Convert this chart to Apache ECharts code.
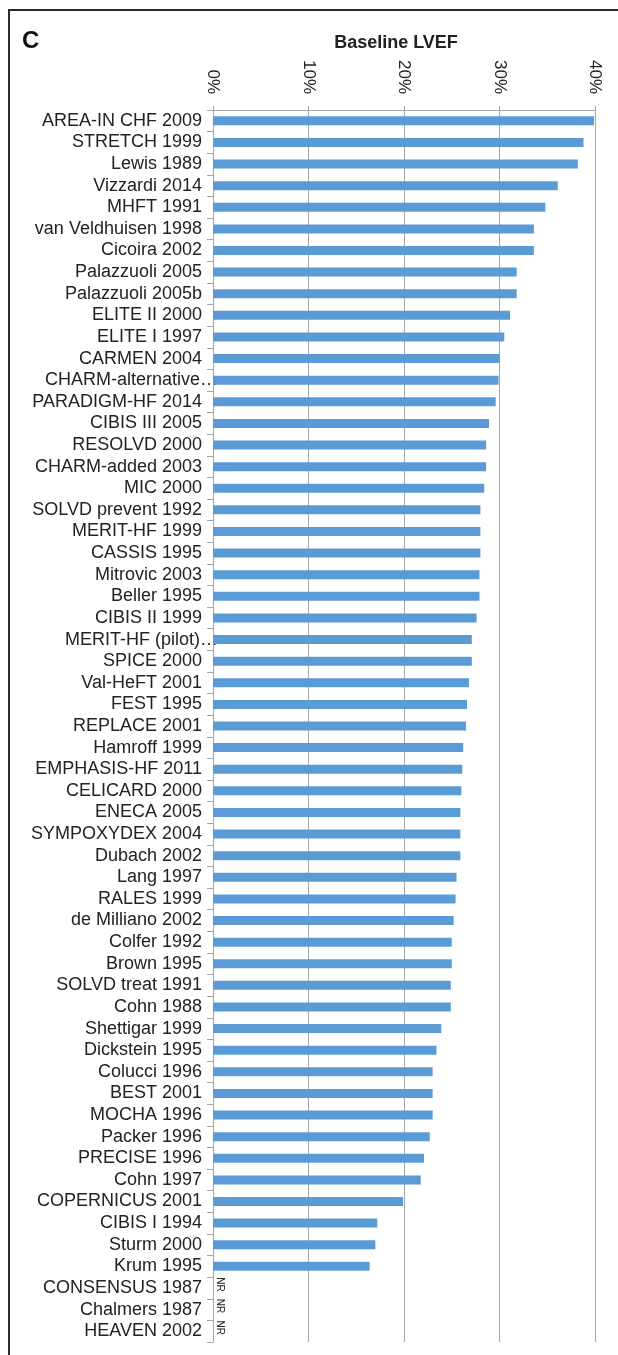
<!DOCTYPE html>
<html>
<head>
<meta charset="utf-8">
<style>
  html, body { margin: 0; padding: 0; background: #fff; }
  #main { width: 618px; height: 1355px; }
</style>
<script src="https://cdn.jsdelivr.net/npm/echarts@6/dist/echarts.min.js"></script>
</head>
<body>
<div id="main"></div>
<script>
// trials, top to bottom
const trials = [
  'AREA-IN CHF 2009', 'STRETCH 1999', 'Lewis 1989', 'Vizzardi 2014', 'MHFT 1991',
  'van Veldhuisen 1998', 'Cicoira 2002', 'Palazzuoli 2005', 'Palazzuoli 2005b', 'ELITE II 2000',
  'ELITE I 1997', 'CARMEN 2004', 'CHARM-alternative…', 'PARADIGM-HF 2014', 'CIBIS III 2005',
  'RESOLVD 2000', 'CHARM-added 2003', 'MIC 2000', 'SOLVD prevent 1992', 'MERIT-HF 1999',
  'CASSIS 1995', 'Mitrovic 2003', 'Beller 1995', 'CIBIS II 1999', 'MERIT-HF (pilot)…',
  'SPICE 2000', 'Val-HeFT 2001', 'FEST 1995', 'REPLACE 2001', 'Hamroff 1999',
  'EMPHASIS-HF 2011', 'CELICARD 2000', 'ENECA 2005', 'SYMPOXYDEX 2004', 'Dubach 2002',
  'Lang 1997', 'RALES 1999', 'de Milliano 2002', 'Colfer 1992', 'Brown 1995',
  'SOLVD treat 1991', 'Cohn 1988', 'Shettigar 1999', 'Dickstein 1995', 'Colucci 1996',
  'BEST 2001', 'MOCHA 1996', 'Packer 1996', 'PRECISE 1996', 'Cohn 1997',
  'COPERNICUS 2001', 'CIBIS I 1994', 'Sturm 2000', 'Krum 1995', 'CONSENSUS 1987',
  'Chalmers 1987', 'HEAVEN 2002'
]
// baseline LVEF in %, null = not reported
const lvef = [
  39.9, 38.8, 38.2, 36.1, 34.8,
  33.6, 33.6, 31.8, 31.8, 31.1,
  30.5, 30.0, 29.9, 29.6, 28.9,
  28.6, 28.6, 28.4, 28.0, 28.0,
  28.0, 27.9, 27.9, 27.6, 27.1,
  27.1, 26.8, 26.6, 26.5, 26.2,
  26.1, 26.0, 25.9, 25.9, 25.9,
  25.5, 25.4, 25.2, 25.0, 25.0,
  24.9, 24.9, 23.9, 23.4, 23.0,
  23.0, 23.0, 22.7, 22.1, 21.75,
  19.9, 17.2, 17.0, 16.4, null,
  null, null
]
const tickLabels = ['0%', '10%', '20%', '30%', '40%']

const font = 'Liberation Sans, Arial, sans-serif'
const chart = echarts.init(document.getElementById('main'))

// truncated names: excel lets the ellipsis run past the label edge
const catData = trials.map(name => {
  if (!name.endsWith('…')) return name
  return { value: name, textStyle: { padding: [0, -16, 0, 0] } }
})

const barData = lvef.map(v => {
  if (v !== null) return v
  return {
    value: 0,
    label: {
      show: true,
      formatter: 'NR',
      position: [7, 1],
      align: 'center',
      verticalAlign: 'middle',
      rotate: -90,
      fontSize: 10,
      fontFamily: font,
      color: '#222'
    }
  }
})

chart.setOption({
  animation: false,
  grid: { left: 213, right: 23, top: 110, bottom: 13 },
  graphic: [
    {
      type: 'rect',
      shape: { x: 9, y: 10, width: 900, height: 2000 },
      style: { fill: 'none', stroke: '#2b2b2b', lineWidth: 2 }
    },
    {
      type: 'text',
      left: 22, top: 29,
      style: { text: 'C', font: 'bold 24px ' + font, fill: '#111' }
    }
  ],
  xAxis: {
    type: 'value',
    position: 'top',
    min: 0, max: 40, interval: 10,
    name: 'Baseline LVEF',
    nameLocation: 'middle',
    nameGap: 57,
    nameTextStyle: {
      fontSize: 18, fontWeight: 'bold', fontFamily: font, color: '#222',
      padding: [0, 16, 0, 0]
    },
    axisLine: { show: true, lineStyle: { color: '#a6a6a6', width: 1 } },
    axisTick: { show: true, length: 4, lineStyle: { color: '#a6a6a6' } },
    axisLabel: {
      rotate: 90,
      margin: 16,
      fontSize: 17,
      fontFamily: font,
      color: '#222',
      formatter: v => tickLabels[v / 10]
    },
    splitLine: { show: true, lineStyle: { color: '#a6a6a6', width: 1 } }
  },
  yAxis: {
    type: 'category',
    inverse: true,
    data: catData,
    axisLine: { show: true, lineStyle: { color: '#a6a6a6' } },
    axisTick: { show: true, length: 6, lineStyle: { color: '#a6a6a6' } },
    axisLabel: {
      interval: 0,
      margin: 11,
      fontSize: 18,
      fontFamily: font,
      color: '#222'
    }
  },
  series: [{
    type: 'bar',
    data: barData,
    barWidth: 9,
    itemStyle: { color: '#5b9bd5' }
  }]
})
</script>
</body>
</html>
